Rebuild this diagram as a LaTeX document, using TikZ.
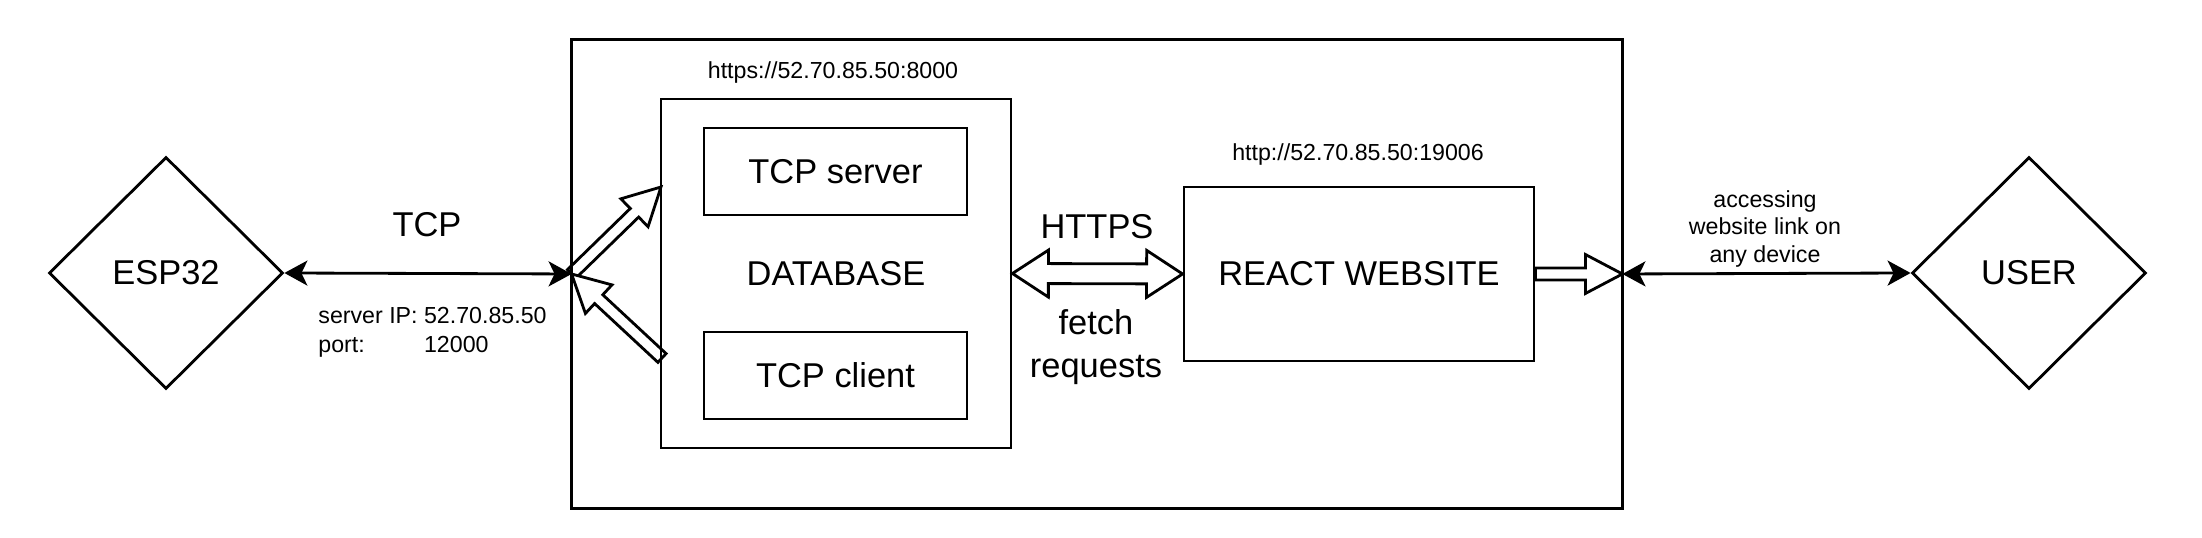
\documentclass[tikz,border=0pt]{standalone}
\usepackage{fontspec}
\setmainfont{Liberation Sans}
\usetikzlibrary{calc,positioning,shapes.geometric,arrows.meta}

% hollow arrow: from #1 to #2, head length #3, head half width #4, shaft half width #5
\newcommand{\hollowarrow}[5]{%
\coordinate (ha) at ($(#2)!#3!(#1)$);
\draw[fill=white] ($(#1)!#5!90:(#2)$) -- ($(ha)!#5!90:(#2)$) -- ($(ha)!#4!90:(#2)$) -- (#2)
 -- ($(ha)!#4!-90:(#2)$) -- ($(ha)!#5!-90:(#2)$) -- ($(#1)!#5!-90:(#2)$) -- cycle;}
% same with a head at both ends
\newcommand{\hollowdarrow}[5]{%
\coordinate (ha) at ($(#1)!#3!(#2)$);
\coordinate (hb) at ($(#2)!#3!(#1)$);
\draw[fill=white] (#1) -- ($(ha)!#4!90:(#2)$) -- ($(ha)!#5!90:(#2)$) -- ($(hb)!#5!90:(#2)$) -- ($(hb)!#4!90:(#2)$) -- (#2)
 -- ($(hb)!#4!-90:(#2)$) -- ($(hb)!#5!-90:(#2)$) -- ($(ha)!#5!-90:(#2)$) -- ($(ha)!#4!-90:(#2)$) -- cycle;}

\begin{document}
\begin{tikzpicture}[line width=0.8pt,
 big/.style={font=\fontsize{9.8}{11.8}\selectfont},
 small/.style={font=\fontsize{6.6}{7.7}\selectfont, inner sep=0pt},
 box/.style={draw, rectangle, inner sep=0pt, big},
 dia/.style={draw, diamond, inner sep=0pt, minimum width=2.34cm, minimum height=2.32cm, big},
 conn/.style={>={Stealth[length=2.3mm,width=2.5mm,inset=0.6mm]}, <->}]
\useasboundingbox (0,0) rectangle (22.02,5.38);
\node[dia] (esp) at (1.66,2.65) {ESP32};
\node[dia] (user) at (20.29,2.65) {USER};
% server machine
\coordinate (srvpt) at (6.61,3.51);
\coordinate (clipt) at (6.62,1.80);
\node[minimum width=10.48cm, minimum height=4.66cm, inner sep=0pt] (srv) at (10.97,2.64) {};
\node[minimum width=3.5cm, minimum height=3.49cm, inner sep=0pt] (db) at (8.36,2.645) {};
\node[minimum width=3.5cm, minimum height=1.74cm, inner sep=0pt] (react) at (13.59,2.64) {};
\hollowarrow{srv.west}{srvpt}{0.37cm}{0.195cm}{0.06cm}
\hollowarrow{clipt}{srv.west}{0.37cm}{0.195cm}{0.06cm}
\hollowarrow{react.east}{srv.east}{0.37cm}{0.195cm}{0.06cm}
\hollowdarrow{db.east}{react.west}{0.36cm}{0.235cm}{0.10cm}
\draw (srv.south west) rectangle (srv.north east);
\node[box, minimum width=3.5cm, minimum height=3.49cm] (dbbox) at (db) {DATABASE};
\foreach \n/\t/\y in {tcpsrv/TCP server/3.665, tcpcli/TCP client/1.625}
 {\node[box, minimum width=2.63cm, minimum height=0.87cm] (\n) at (8.355,\y) {\t};}
\node[box, minimum width=3.5cm, minimum height=1.74cm] (reactbox) at (react) {REACT WEBSITE};
\node[small] (dburl) at (8.33,4.65) {https://52.70.85.50:8000};
\node[small] (reacturl) at (13.58,3.83) {http://52.70.85.50:19006};
% links
\draw[conn] (esp.east) -- (srv.west);
\node[big] (tcplbl) at (4.27,3.13) {TCP};
\node[small, anchor=west, font=\fontsize{6.6}{8.5}\selectfont] (tcpinfo) at (3.17,2.06)
 {\begin{tabular}{@{}l@{ }l@{}}server IP: & 52.70.85.50\\ port: & 12000\end{tabular}};
\node[big] (httpslbl) at (10.97,3.11) {HTTPS};
\node[big, align=center, font=\fontsize{9.8}{12.2}\selectfont] (fetchlbl) at (10.96,1.91) {fetch\\requests};
\draw[conn] (srv.east) -- (user.west);
\node[small, align=center] (userlbl) at (17.65,3.09) {accessing\\website link on\\any device};
\end{tikzpicture}
\end{document}
